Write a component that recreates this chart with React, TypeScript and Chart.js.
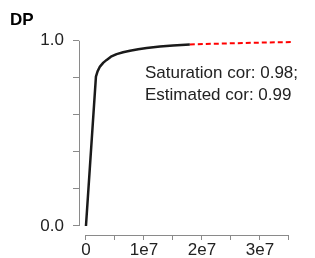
import React, { useEffect, useRef } from "react";
import { Chart, registerables } from "chart.js";

Chart.register(...registerables);

const titleText = "DP";
const observedX = [0, 1.72e6, 2.0e6, 2.41e6, 3.0e6, 3.57e6, 4.3e6, 5.29e6, 6.4e6, 7.59e6, 9.0e6, 1.047e7, 1.276e7, 1.5e7, 1.79e7];
const observedY = [0, 0.807, 0.835, 0.861, 0.882, 0.897, 0.914, 0.928, 0.938, 0.946, 0.954, 0.961, 0.969, 0.975, 0.98];
const extrapX = [1.79e7, 2.2e7, 2.7e7, 3.1e7, 3.55e7];
const extrapY = [0.98, 0.984, 0.988, 0.991, 0.993];
const xTickValues = [0, 5e6, 1e7, 1.5e7, 2e7, 2.5e7, 3e7, 3.5e7];
const xTickLabels = ["0", "", "1e7", "", "2e7", "", "3e7", ""];
const yTickValues = [0, 0.2, 0.4, 0.6, 0.8, 1.0];
const yTickLabels = ["0.0", "", "", "", "", "1.0"];
const annotationLines = ["Saturation cor: 0.98;", "Estimated cor: 0.99"];
const annotationX = 1.017e7;
const annotationY = [0.827, 0.703];

const FONT = "Arial, 'Liberation Sans', sans-serif";

export default function App() {
  const ref = useRef<HTMLCanvasElement | null>(null);
  useEffect(() => {
    document.body.style.margin = "0";
    const canvas = ref.current!;
    const axisPlugin = {
      id: "rAxes",
      afterDraw(chart: any) {
        const { ctx, scales } = chart;
        const xs = scales.x;
        const ys = scales.y;
        ctx.save();
        ctx.strokeStyle = "#8a8a8a";
        ctx.lineWidth = 1;
        ctx.beginPath();
        const lx = Math.round(xs.left) + 0.5;
        ctx.moveTo(lx, ys.getPixelForValue(yTickValues[0]));
        ctx.lineTo(lx, ys.getPixelForValue(yTickValues[yTickValues.length - 1]));
        const by = Math.round(ys.bottom) + 0.5;
        ctx.moveTo(xs.getPixelForValue(xTickValues[0]), by);
        ctx.lineTo(xs.getPixelForValue(xTickValues[xTickValues.length - 1]), by);
        ctx.stroke();
        ctx.fillStyle = "#222";
        ctx.font = `17px ${FONT}`;
        ctx.textBaseline = "middle";
        ctx.textAlign = "left";
        annotationLines.forEach((t, i) => {
          ctx.fillText(t, xs.getPixelForValue(annotationX), ys.getPixelForValue(annotationY[i]));
        });
        ctx.restore();
      },
    };
    const chart = new Chart(canvas, {
      type: "line",
      data: {
        datasets: [
          {
            data: observedX.map((x, i) => ({ x, y: observedY[i] })),
            borderColor: "#1a1a1a",
            borderWidth: 2.5,
            borderJoinStyle: "round",
            pointRadius: 0,
            tension: 0,
          },
          {
            data: extrapX.map((x, i) => ({ x, y: extrapY[i] })),
            borderColor: "#ff0000",
            borderWidth: 2,
            borderDash: [5, 3],
            pointRadius: 0,
            tension: 0,
          },
        ],
      },
      options: {
        responsive: false,
        animation: false,
        layout: { padding: { left: 10, right: 10, top: 0, bottom: 0 } },
        plugins: {
          legend: { display: false },
          tooltip: { enabled: false },
          title: {
            display: true,
            text: titleText,
            align: "start",
            color: "#000",
            font: { family: FONT, size: 17, weight: "bold" },
            padding: { top: 10, bottom: 3 },
          },
        },
        scales: {
          x: {
            type: "linear",
            min: -1.2e6,
            max: 3.776e7,
            afterBuildTicks: (s: any) => {
              s.ticks = xTickValues.map((v) => ({ value: v }));
            },
            afterFit: (s: any) => {
              s.height = 23;
            },
            ticks: {
              autoSkip: false,
              maxRotation: 0,
              color: "#222",
              font: { family: FONT, size: 17 },
              padding: 0,
              callback: (_v: any, i: number) => xTickLabels[i],
            },
            grid: { drawOnChartArea: false, tickLength: 5, color: "#8a8a8a", tickColor: "#8a8a8a" },
            border: { display: false },
          },
          y: {
            type: "linear",
            min: -0.0486,
            max: 1.04,
            afterBuildTicks: (s: any) => {
              s.ticks = yTickValues.map((v) => ({ value: v }));
            },
            afterFit: (s: any) => {
              s.width = 69;
            },
            ticks: {
              autoSkip: false,
              color: "#222",
              font: { family: FONT, size: 17 },
              padding: 9,
              callback: (_v: any, i: number) => yTickLabels[i],
            },
            grid: { drawOnChartArea: false, tickLength: 6, color: "#8a8a8a", tickColor: "#8a8a8a" },
            border: { display: false },
          },
        },
      },
      plugins: [axisPlugin],
    } as any);
    return () => chart.destroy();
  }, []);
  return <canvas ref={ref} width={315} height={258} />;
}
